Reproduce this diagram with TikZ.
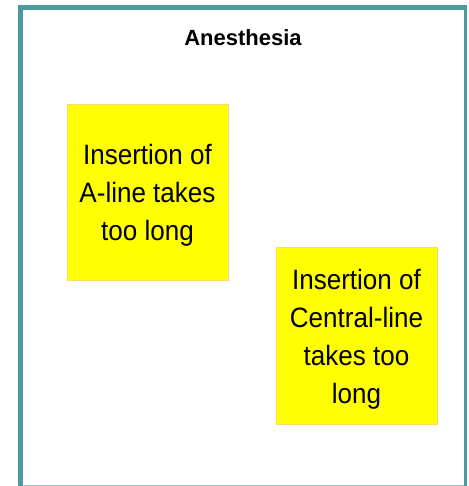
\documentclass[tikz,border=0pt]{standalone}
\usepackage{fontspec}
\setmainfont{Liberation Sans}
\newfontfamily\boxfont[FakeStretch=0.93]{Liberation Sans}
\definecolor{teal1}{HTML}{4A9AA0}
\definecolor{teallight}{HTML}{9CC7CA}
\definecolor{boxedge}{HTML}{FFD966}
\definecolor{boxfill}{HTML}{FFFF00}
\begin{document}
\begin{tikzpicture}[x=1pt,y=-1pt,
  causebox/.style={draw=boxedge,line width=0.8pt,fill=boxfill,inner sep=0pt},
  boxtext/.style={inner sep=0pt,align=center,
    font=\boxfont\fontsize{28}{38}\selectfont},
  titletext/.style={font=\bfseries\fontsize{22}{26}\selectfont,inner sep=0pt}]
\useasboundingbox (0,0) rectangle (468,486);
% frame
\draw[teal1,line width=5pt] (20,486) -- (20,7.5);
\draw[teal1,line width=5pt] (17.5,7.5) -- (466.5,7.5);
\draw[teal1,line width=3pt] (465,5) -- (465,486);
\draw[teallight,line width=1pt] (22.5,485.5) -- (463.5,485.5);
\node[titletext,anchor=base] (title) at (243,46) {Anesthesia};
\node[causebox,minimum width=161pt,minimum height=176pt] (a) at (147.5,192) {};
\node[boxtext] (at) at ([yshift=-3.5pt]a.center) {Insertion of\\A-line takes\\too long};
\node[causebox,minimum width=161pt,minimum height=177pt] (b) at (356.5,335.5) {};
\node[boxtext] (bt) at ([yshift=-4pt]b.center) {Insertion of\\Central-line\\takes too\\long};
\end{tikzpicture}
\end{document}
